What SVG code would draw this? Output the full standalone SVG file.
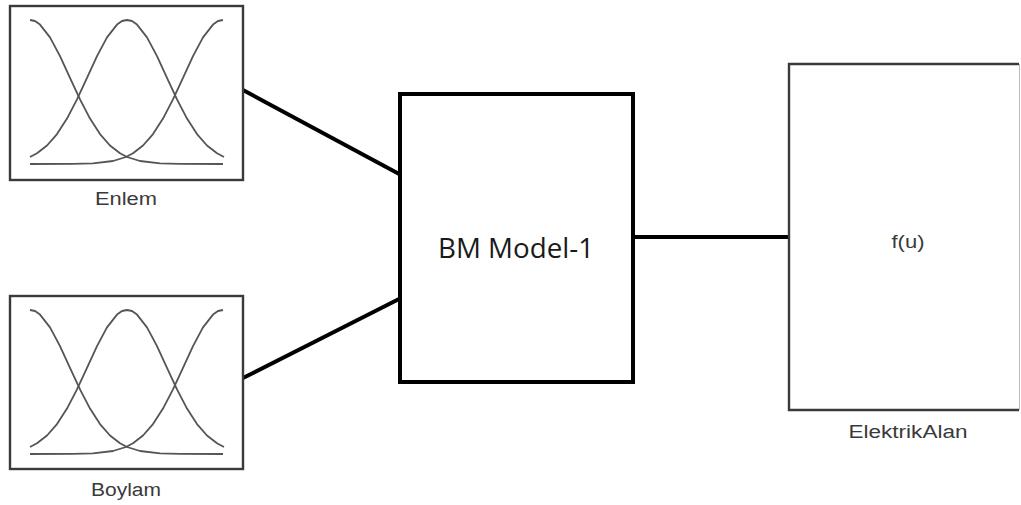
<svg xmlns="http://www.w3.org/2000/svg" width="1021" height="505" viewBox="0 0 1021 505">
<style>
.blk{fill:#fff;stroke:#3a3a3a;stroke-width:2.4}
.mf{fill:none;stroke:#555;stroke-width:1.8;stroke-linejoin:round}
.lbl{font-family:"Liberation Sans",Arial,sans-serif;font-size:18px;fill:#3a3a3a;text-anchor:middle}
.conn{stroke:#000;stroke-width:4;fill:none}
</style>
<defs>
<g id="mfs">
<polyline class="mf" points="30,157 37,153.3 47,145.5 57,134.1 67,118.6 77,99.4 87,77.8 97,56.1 107,37.4 117,24.6 122,21 127,20 132,21 137,24.6 147,37.4 157,56.1 167,77.8 177,99.4 187,118.6 197,134.1 207,145.5 217,153.3 224,157"/>
<polyline class="mf" points="30,20 35,21 40,24.6 50,37.4 60,56.1 70,77.8 80,99.4 90,118.6 100,134.1 110,145.5 120,153.3 127,157 140,161 160,163.4 180,163.9 223,164"/>
<polyline class="mf" points="223,20 218,21 213,24.6 203,37.4 193,56.1 183,77.8 173,99.4 163,118.6 153,134.1 143,145.5 133,153.3 126,157 113,161 93,163.4 73,163.9 30,164"/>
</g>
</defs>
<g id="connectors">
<line class="conn" x1="243" y1="90" x2="401" y2="175"/>
<line class="conn" x1="243" y1="378" x2="401" y2="298"/>
<line class="conn" x1="633" y1="237" x2="790" y2="237"/>
</g>
<g id="enlem">
<rect class="blk" x="10" y="6" width="233" height="174"/>
<use href="#mfs"/>
<text class="lbl" x="126" y="205" textLength="62" lengthAdjust="spacingAndGlyphs">Enlem</text>
</g>
<g id="boylam">
<rect class="blk" x="10" y="296" width="233" height="173"/>
<use href="#mfs" transform="translate(0,290)"/>
<text class="lbl" x="126" y="496" textLength="70" lengthAdjust="spacingAndGlyphs">Boylam</text>
</g>
<g id="bm">
<rect x="400" y="94" width="233" height="288" fill="#fff" stroke="#000" stroke-width="4"/>
<text x="516" y="258" font-family="'Open Sans',sans-serif" font-size="27" fill="#1a1a1a" text-anchor="middle" textLength="156" lengthAdjust="spacingAndGlyphs">BM Model-1</text>
</g>
<g id="elektrik">
<path d="M1019,64 H789 V410 H1019" fill="#fff" stroke="#3a3a3a" stroke-width="2.4"/>
<line x1="1019.5" y1="64" x2="1019.5" y2="410" stroke="#bbb" stroke-width="1"/>
<text class="lbl" x="908" y="248" textLength="33" lengthAdjust="spacingAndGlyphs">f(u)</text>
<text class="lbl" x="908" y="438" textLength="119" lengthAdjust="spacingAndGlyphs">ElektrikAlan</text>
</g>
</svg>
